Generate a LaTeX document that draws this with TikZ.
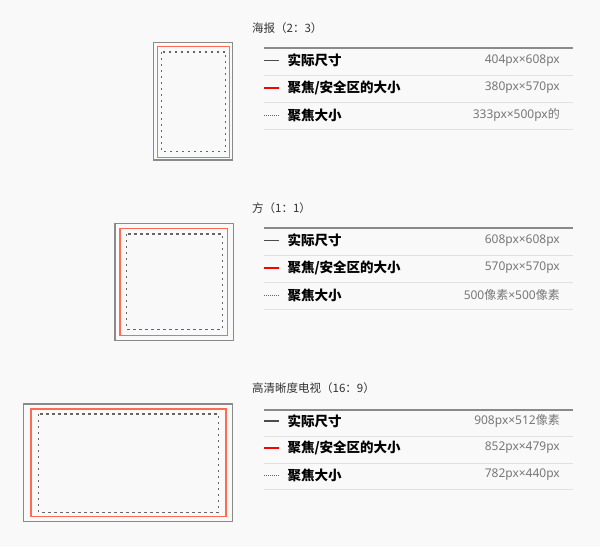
\documentclass[tikz,border=0pt]{standalone}
\usepackage{fontspec}
\setmainfont{Noto Sans CJK SC}
\newfontfamily\latinfont{Noto Sans}
\newfontfamily\cjkfont{Noto Sans CJK SC}
\usetikzlibrary{positioning}
\definecolor{pagebg}{HTML}{F9F9F9}
\definecolor{framegray}{HTML}{8A8A8A}
\definecolor{safered}{HTML}{FF6B4F}
\definecolor{rulegray}{HTML}{E1E1E1}
\definecolor{valuegray}{HTML}{777777}
\newcommand{\xs}{{\cjkfont 像素}}
\tikzstyle{heading} =
        [
                anchor = west,
                inner sep = 0pt,
                text = black!80,
                font = \fontsize{11.5}{13}\selectfont
        ]
\tikzstyle{itemname} =
        [
                anchor = west,
                inner sep = 0pt,
                font = \fontsize{13.5}{15}\selectfont\bfseries
        ]
\tikzstyle{sizetext} =
        [
                anchor = east,
                inner sep = 0pt,
                text = valuegray,
                font = \fontsize{12}{14}\selectfont\latinfont
        ]
\tikzstyle{outerbox} = [draw = framegray, line width = 1.5pt]
\tikzstyle{safebox} = [draw = safered, line width = 1.5pt]
\tikzstyle{focusbox} = [draw = black!60, line width = 1.3pt, dash pattern = on 2.2pt off 3.8pt]
\tikzstyle{headrule} = [draw = framegray, line width = 1.6pt]
\tikzstyle{rowrule} = [draw = rulegray, line width = 0.8pt]
\tikzstyle{keysolid} = [draw = black!70, line width = 1.2pt]
\tikzstyle{keyred} = [draw = red, line width = 1.3pt]
\tikzstyle{keydot} = [draw = black!60, line width = 1pt, dash pattern = on 1pt off 1pt]

\begin{document}
\begin{tikzpicture}[x = 1pt, y = -1pt]
    \fill [pagebg] (0,0) rectangle (600,547);
    \useasboundingbox (0,0) rectangle (600,547);

    % poster 2:3
    \draw [outerbox] (153.3,42.7) rectangle (232.3,160);
    \draw [safebox] (157.3,46.7) rectangle (229.7,157.3);
    \draw [focusbox] (161.3,52) rectangle (225.7,151.3);
    \node [heading] (poster) at (252,28) {海报（2：3）};
    \draw [headrule] (264,47.7) -- (573,47.7);
    \draw [keysolid] (264,60.7) -- (279.3,60.7);
    \node [itemname] (poster-real) at (287.3,60.7) {实际尺寸};
    \node [sizetext] (poster-real-px) at (560,60.7) {404px×608px};
    \draw [rowrule] (264,75) -- (573,75);
    \draw [keyred] (264,88) -- (279.3,88);
    \node [itemname] (poster-safe) at (287.3,88) {聚焦/安全区的大小};
    \node [sizetext] (poster-safe-px) at (560,88) {380px×570px};
    \draw [rowrule] (264,102.3) -- (573,102.3);
    \draw [keydot] (264,115) -- (279.3,115);
    \node [itemname] (poster-focus) at (287.3,115) {聚焦大小};
    \node [sizetext] (poster-focus-px) at (560,115) {333px×500px{\cjkfont 的}};
    \draw [rowrule] (264,129) -- (573,129);

    % square 1:1
    \draw [outerbox] (115,223.3) rectangle (233.3,340.7);
    \draw [safebox] (120,228.3) rectangle (227.7,335.7);
    \draw [focusbox] (126.7,234) rectangle (222.3,329.3);
    \node [heading] (square) at (252,208.3) {方（1：1）};
    \draw [headrule] (264,227.7) -- (573,227.7);
    \draw [keysolid] (264,240.7) -- (279.3,240.7);
    \node [itemname] (square-real) at (287.3,240.7) {实际尺寸};
    \node [sizetext] (square-real-px) at (560,240.7) {608px×608px};
    \draw [rowrule] (264,255) -- (573,255);
    \draw [keyred] (264,268) -- (279.3,268);
    \node [itemname] (square-safe) at (287.3,268) {聚焦/安全区的大小};
    \node [sizetext] (square-safe-px) at (560,268) {570px×570px};
    \draw [rowrule] (264,282.3) -- (573,282.3);
    \draw [keydot] (264,295) -- (279.3,295);
    \node [itemname] (square-focus) at (287.3,295) {聚焦大小};
    \node [sizetext] (square-focus-px) at (560,295) {500\xs×500\xs};
    \draw [rowrule] (264,309) -- (573,309);

    % hdtv 16:9
    \draw [outerbox] (23.3,404) rectangle (232.7,521.7);
    \draw [safebox] (31,409) rectangle (226,516.7);
    \draw [focusbox] (38.7,414) rectangle (218.3,512.3);
    \node [heading] (hdtv) at (252,388.3) {高清晰度电视（16：9）};
    \draw [headrule] (264,409.7) -- (573,409.7);
    \draw [keysolid] (264,421) -- (279.3,421);
    \node [itemname] (hdtv-real) at (287.3,421) {实际尺寸};
    \node [sizetext] (hdtv-real-px) at (560,421) {908px×512\xs};
    \draw [rowrule] (264,436.3) -- (573,436.3);
    \draw [keyred] (264,448) -- (279.3,448);
    \node [itemname] (hdtv-safe) at (287.3,448) {聚焦/安全区的大小};
    \node [sizetext] (hdtv-safe-px) at (560,448) {852px×479px};
    \draw [rowrule] (264,463.3) -- (573,463.3);
    \draw [keydot] (264,475) -- (279.3,475);
    \node [itemname] (hdtv-focus) at (287.3,475) {聚焦大小};
    \node [sizetext] (hdtv-focus-px) at (560,475) {782px×440px};
    \draw [rowrule] (264,489) -- (573,489);
\end{tikzpicture}
\end{document}
